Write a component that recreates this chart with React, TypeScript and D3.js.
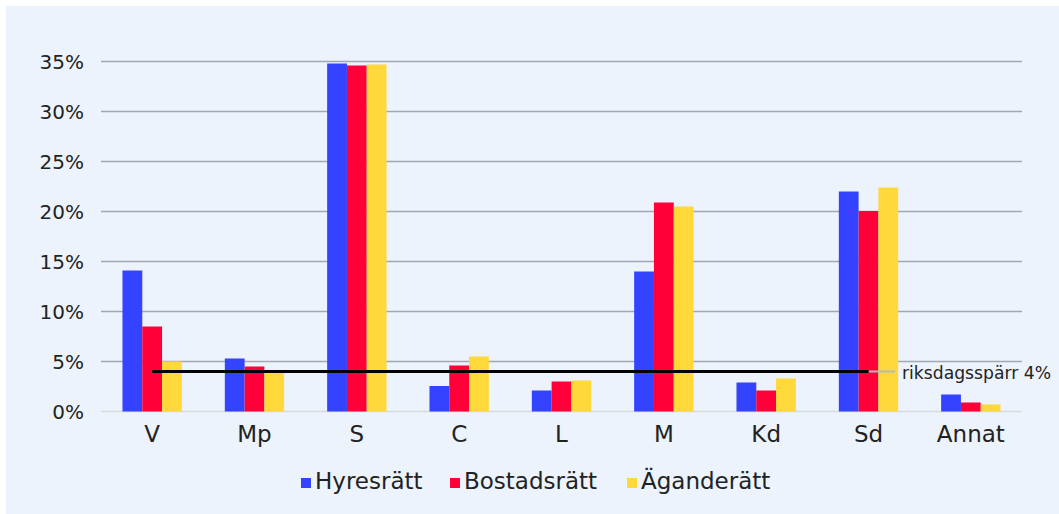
import React from "react";
import * as d3 from "d3";

const categories = ["V", "Mp", "S", "C", "L", "M", "Kd", "Sd", "Annat"];
const seriesNames = ["Hyresrätt", "Bostadsrätt", "Äganderätt"];
const hyresratt = [14.1, 5.3, 34.8, 2.55, 2.1, 14.0, 2.9, 22.0, 1.7];
const bostadsratt = [8.5, 4.5, 34.6, 4.6, 3.0, 20.9, 2.1, 20.05, 0.9];
const aganderatt = [5.0, 3.9, 34.7, 5.5, 3.1, 20.5, 3.3, 22.4, 0.7];
const yTicks = [0, 5, 10, 15, 20, 25, 30, 35];
const threshold = 4;
const thresholdLabel = "riksdagsspärr 4%";

const colors = ["#3343ff", "#ff0038", "#ffd83a"];
const seriesValues = [hyresratt, bostadsratt, aganderatt];

const W = 1059;
const H = 514;
const FONT = "'DejaVu Sans', 'Noto Sans', sans-serif";

export default function App() {
  const x = d3.scaleBand<string>().domain(categories).range([101, 1022]).paddingInner(0.42).paddingOuter(0.21);
  const x1 = d3.scaleBand<number>().domain([0, 1, 2]).range([0, x.bandwidth()]);
  const y = d3.scaleLinear().domain([0, 35]).range([411.5, 61.5]);

  const lineStart = (x("V") as number) + x.bandwidth() / 2;
  const lineEnd = (x("Sd") as number) + x.bandwidth() / 2;
  const legendX = [301, 450, 627];

  return (
    <svg width={W} height={H} style={{ position: "absolute", left: 0, top: 0 }} fontFamily={FONT}>
      <rect x={0} y={0} width={W} height={H} fill="#ffffff" />
      <rect x={6} y={6} width={W - 6} height={H - 6} fill="#ecf3fc" />
      {yTicks.map((t) => (
        <g key={t}>
          <line x1={101} x2={1022} y1={y(t)} y2={y(t)} stroke={t === 0 ? "#d6d9de" : "#a3a7ae"} strokeWidth={1.5} />
          <text x={84} y={y(t) + 7} textAnchor="end" fontSize={20} fill="#222">{t}%</text>
        </g>
      ))}
      {categories.map((c, i) => (
        <g key={c} transform={`translate(${x(c)},0)`}>
          {seriesValues.map((vals, s) => (
            <rect key={s} x={x1(s)} y={y(vals[i])} width={x1.bandwidth()} height={y(0) - y(vals[i])} fill={colors[s]} />
          ))}
          <text x={x.bandwidth() / 2} y={442} textAnchor="middle" fontSize={23} fill="#222">{c}</text>
        </g>
      ))}
      <line x1={lineEnd} x2={895} y1={y(threshold)} y2={y(threshold)} stroke="#b5b9bf" strokeWidth={2} />
      <line x1={lineStart} x2={lineEnd} y1={y(threshold)} y2={y(threshold)} stroke="#000" strokeWidth={3} />
      <text x={902} y={y(threshold) + 7} fontSize={17.2} fill="#222">{thresholdLabel}</text>
      {seriesNames.map((n, s) => (
        <g key={n} transform={`translate(${legendX[s]},0)`}>
          <rect x={0} y={478} width={10} height={10} fill={colors[s]} />
          <text x={14} y={489} fontSize={23} fill="#222">{n}</text>
        </g>
      ))}
    </svg>
  );
}
